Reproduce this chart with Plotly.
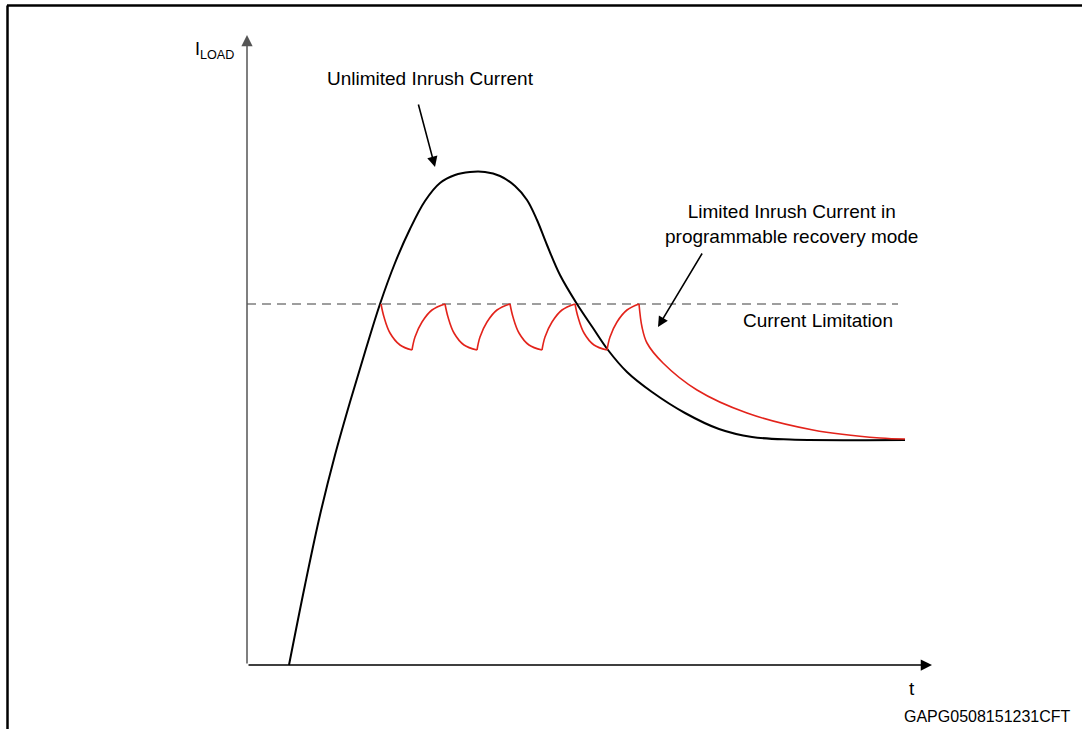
import plotly.graph_objects as go

# Unlimited inrush current (black)
t_unlimited = [0.42, 0.58, 0.73, 0.88, 1.03, 1.18, 1.33, 1.48, 1.63, 1.78, 1.93, 2.08,
               2.23, 2.38, 2.53, 2.68, 2.80, 2.90, 3.00, 3.13, 3.30, 3.46, 3.61, 3.80,
               4.05, 4.38, 4.72, 5.05, 5.43, 6.58]
i_unlimited = [0.00, 0.80, 1.50, 2.10, 2.63, 3.13, 3.61, 4.02, 4.36, 4.64, 4.82, 4.90,
               4.93, 4.93, 4.89, 4.79, 4.65, 4.45, 4.20, 3.90, 3.61, 3.37, 3.15, 2.93,
               2.73, 2.52, 2.36, 2.28, 2.255, 2.25]

# Limited inrush current in programmable recovery mode (red), segments split by None
t_limited = [1.34, 1.37, 1.43, 1.53, 1.65, None,
             1.65, 1.68, 1.75, 1.85, 1.98, None,
             1.98, 2.01, 2.07, 2.17, 2.30, None,
             2.30, 2.33, 2.40, 2.50, 2.63, None,
             2.63, 2.66, 2.72, 2.82, 2.95, None,
             2.95, 2.98, 3.05, 3.15, 3.28, None,
             3.28, 3.31, 3.37, 3.47, 3.60, None,
             3.60, 3.63, 3.70, 3.80, 3.92, None,
             3.92, 3.95, 4.00, 4.16, 4.50, 5.00, 5.66, 6.33, 6.58]
i_limited = [3.61, 3.48, 3.32, 3.20, 3.15, None,
             3.15, 3.28, 3.43, 3.55, 3.61, None,
             3.61, 3.48, 3.32, 3.20, 3.15, None,
             3.15, 3.28, 3.43, 3.55, 3.61, None,
             3.61, 3.48, 3.32, 3.20, 3.15, None,
             3.15, 3.28, 3.43, 3.55, 3.61, None,
             3.61, 3.48, 3.32, 3.20, 3.15, None,
             3.15, 3.28, 3.43, 3.55, 3.61, None,
             3.61, 3.38, 3.22, 3.02, 2.75, 2.52, 2.35, 2.27, 2.26]

# Current limitation level
i_limit = 3.61
t_limit_span = [0.0, 6.51]

# Axis extents
t_axis_end = 6.85
i_axis_end = 6.30

FONT = "Liberation Sans, Arial, sans-serif"

fig = go.Figure()

fig.add_trace(go.Scatter(
    x=t_limit_span, y=[i_limit, i_limit], mode="lines",
    line=dict(color="#7f7f7f", width=1.5, dash="9px,6px"),
    hoverinfo="skip", showlegend=False))

fig.add_trace(go.Scatter(
    x=t_unlimited, y=i_unlimited, mode="lines",
    line=dict(color="black", width=2, shape="spline", smoothing=1.0),
    showlegend=False))

fig.add_trace(go.Scatter(
    x=t_limited, y=i_limited, mode="lines", connectgaps=False,
    line=dict(color="#e3231b", width=1.6, shape="spline", smoothing=1.0),
    showlegend=False))

annotations = [
    # axes with arrowheads
    dict(x=0, y=i_axis_end, ax=0, ay=0, xref="x", yref="y", axref="x", ayref="y",
         showarrow=True, arrowhead=2, arrowsize=1.5, arrowwidth=1.5,
         arrowcolor="#555555", text=""),
    dict(x=t_axis_end, y=0, ax=0, ay=0, xref="x", yref="y", axref="x", ayref="y",
         showarrow=True, arrowhead=2, arrowsize=1.5, arrowwidth=1.5,
         arrowcolor="black", text=""),
    # pointer arrows
    dict(x=1.88, y=4.98, ax=1.71, ay=5.62, xref="x", yref="y", axref="x", ayref="y",
         showarrow=True, arrowhead=2, arrowsize=1.3, arrowwidth=1.6,
         arrowcolor="black", text=""),
    dict(x=4.11, y=3.38, ax=4.56, ay=4.13, xref="x", yref="y", axref="x", ayref="y",
         showarrow=True, arrowhead=2, arrowsize=1.3, arrowwidth=1.6,
         arrowcolor="black", text=""),
    # labels
    dict(x=-0.33, y=6.15, xref="x", yref="y", showarrow=False,
         text="I<sub>LOAD</sub>", font=dict(family=FONT, size=18, color="black")),
    dict(x=1.83, y=5.87, xref="x", yref="y", showarrow=False,
         text="Unlimited Inrush Current", font=dict(family=FONT, size=19, color="black")),
    dict(x=5.44, y=4.41, xref="x", yref="y", showarrow=False, align="center",
         text="Limited Inrush Current in<br>programmable recovery mode",
         font=dict(family=FONT, size=19, color="black")),
    dict(x=5.705, y=3.45, xref="x", yref="y", showarrow=False,
         text="Current Limitation", font=dict(family=FONT, size=19, color="black")),
    dict(x=6.65, y=-0.23, xref="x", yref="y", showarrow=False,
         text="t", font=dict(family=FONT, size=19, color="black")),
    dict(x=7.405, y=-0.51, xref="x", yref="y", showarrow=False,
         text="GAPG0508151231CFT", font=dict(family=FONT, size=16, color="black")),
]

W, H = 1082, 729
shapes = [
    # frame: top and left rules
    dict(type="line", xref="paper", yref="paper",
         x0=7 / W, x1=1.0, y0=1 - 5.5 / H, y1=1 - 5.5 / H,
         line=dict(color="black", width=2.5)),
    dict(type="line", xref="paper", yref="paper",
         x0=7.5 / W, x1=7.5 / W, y0=0, y1=1 - 5.5 / H,
         line=dict(color="black", width=2.5)),
]

fig.update_layout(
    width=W, height=H,
    margin=dict(l=0, r=0, t=0, b=0),
    paper_bgcolor="white", plot_bgcolor="white",
    xaxis=dict(range=[-2.47, 8.35], visible=False, fixedrange=True),
    yaxis=dict(range=[-0.64, 6.65], visible=False, fixedrange=True),
    annotations=annotations, shapes=shapes,
    showlegend=False,
)

fig.write_html("out.html")
